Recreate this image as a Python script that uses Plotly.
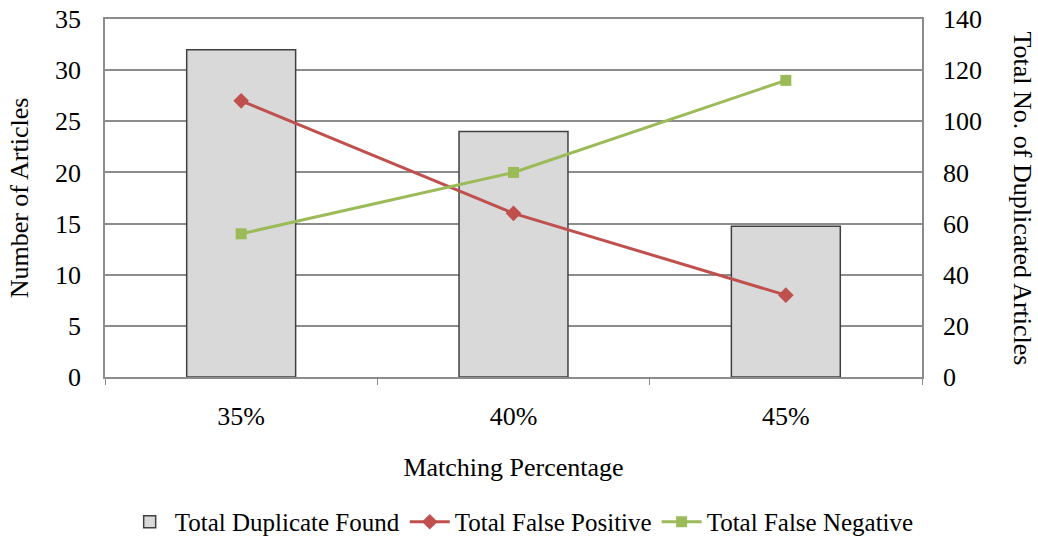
import plotly.graph_objects as go

# ---------------------------------------------------------------------------
# Data
# ---------------------------------------------------------------------------
categories = ['35%', '40%', '45%']
duplicate_found = [128, 96, 59]      # right axis
false_positive = [27, 16, 8]         # left axis
false_negative = [14, 20, 29]        # left axis

FONT = 'Liberation Serif, Times New Roman, serif'
GRID = '#8c8c8c'

fig = go.Figure()

# bars live on the base axis (drawn on the right) so the lines sit on top
fig.add_trace(go.Bar(
    x=categories,
    y=duplicate_found,
    name='Total Duplicate Found',
    yaxis='y',
    width=0.4,
    marker=dict(color='#d9d9d9', line=dict(color='#404040', width=1.5)),
))

fig.add_trace(go.Scatter(
    x=categories,
    y=false_positive,
    name='Total False Positive',
    yaxis='y2',
    mode='lines+markers',
    line=dict(color='#c0504d', width=3),
    marker=dict(symbol='diamond', size=12, color='#c0504d'),
))

fig.add_trace(go.Scatter(
    x=categories,
    y=false_negative,
    name='Total False Negative',
    yaxis='y2',
    mode='lines+markers',
    line=dict(color='#9bbb59', width=3),
    marker=dict(symbol='square', size=11, color='#9bbb59'),
))

fig.update_layout(
    width=1038,
    height=557,
    margin=dict(l=105, r=116, t=19, b=178),
    paper_bgcolor='white',
    plot_bgcolor='white',
    font=dict(family=FONT, size=26, color='black'),
    showlegend=True,
    legend=dict(
        orientation='h',
        x=0.51, xanchor='center',
        y=-0.405, yanchor='middle',
        font=dict(size=25),
        itemwidth=40,
        tracegroupgap=0,
    ),
    xaxis=dict(
        title=dict(text='Matching Percentage', standoff=28, font=dict(size=26)),
        showline=True, linecolor=GRID, linewidth=1.5, mirror=True,
        ticks='outside', tickson='boundaries', ticklen=6, tickcolor=GRID,
        ticklabelstandoff=15,
        showgrid=False, automargin=False,
    ),
    yaxis=dict(
        range=[0, 140], dtick=20,
        side='right',
        showline=True, linecolor=GRID, linewidth=1.5,
        showgrid=True, gridcolor=GRID, gridwidth=1.5,
        ticks='', ticklabelstandoff=14,
        zeroline=False, automargin=False,
    ),
    yaxis2=dict(
        title=dict(text='Number of Articles', standoff=19, font=dict(size=26)),
        range=[0, 35], dtick=5,
        overlaying='y', side='left',
        showline=True, linecolor=GRID, linewidth=1.5,
        showgrid=False, ticks='', ticklabelstandoff=17,
        zeroline=False, automargin=False,
    ),
    # right axis title reads top-to-bottom, so it is an annotation
    annotations=[dict(
        text='Total No. of Duplicated Articles',
        xref='paper', yref='paper',
        x=1.0, xshift=117, y=0.5,
        textangle=90, showarrow=False,
        font=dict(size=26),
    )],
)

# drop the browser's default 8px body margin so the figure sits at (0, 0)
fig.write_html(
    'out.html',
    config={'displayModeBar': False},
    post_script="document.body.style.margin='0';",
)
